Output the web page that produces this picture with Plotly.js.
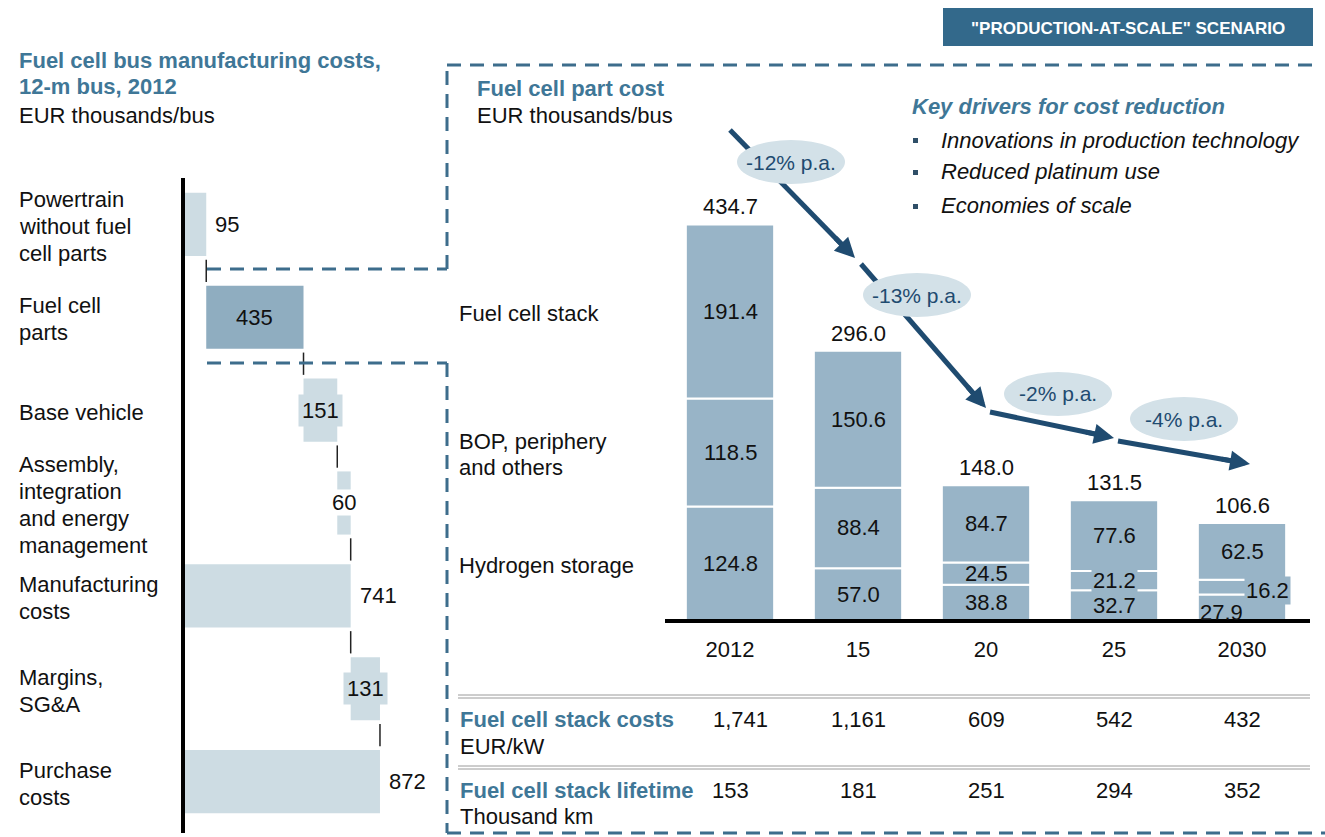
<!DOCTYPE html>
<html><head><meta charset="utf-8">
<script src="https://cdn.plot.ly/plotly-3.0.1.min.js"></script>
<style>html,body{margin:0;padding:0;background:#fff}</style>
</head><body><div id="chart" style="width:1325px;height:837px"></div>
<script>
// ---------------- DATA ----------------
const wfCategories = ['Powertrain without fuel cell parts','Fuel cell parts','Base vehicle','Assembly, integration and energy management','Manufacturing costs','Margins, SG&A','Purchase costs'];
const wfLabelLines = [['Powertrain','without fuel','cell parts'],['Fuel cell','parts'],['Base vehicle'],['Assembly,','integration','and energy','management'],['Manufacturing','costs'],['Margins,','SG&A'],['Purchase','costs']];
const wfValues = [95, 435, 151, 60, 741, 131, 872];
const wfMeasure = ['relative','relative','relative','relative','total','relative','total'];

const years = ['2012','15','20','25','2030'];
const hydrogenStorage = [124.8, 57.0, 38.8, 32.7, 27.9];
const bopOthers = [118.5, 88.4, 24.5, 21.2, 16.2];
const fuelCellStack = [191.4, 150.6, 84.7, 77.6, 62.5];
const partTotals = [434.7, 296.0, 148.0, 131.5, 106.6];
const cagrLabels = ['-12% p.a.','-13% p.a.','-2% p.a.','-4% p.a.'];
const segmentNames = [['Fuel cell stack'],['BOP, periphery','and others'],['Hydrogen storage']];
const stackCosts = ['1,741','1,161','609','542','432'];
const stackLifetime = ['153','181','251','294','352'];
const drivers = ['Innovations in production technology','Reduced platinum use','Economies of scale'];

// ---------------- STYLE ----------------
const W = 1325, H = 837;
const FONT = 'Liberation Sans, Arial, sans-serif';
const BLUE = '#3f7797', NAVY = '#1f4b70', DASH = '#3d6d8c';
const LIGHT = '#cddce3', DARK = '#8fadc0', BARC = '#98b4c7', ELL = '#d3e1e8', TXT = '#111';
const X = p => p / W, Y = p => 1 - p / H;
const annotations = [], shapes = [];

function txt(x, y, text, o) {
  o = o || {};
  annotations.push({xref:'paper', yref:'paper', x:X(x), y:Y(y), text:text, showarrow:false,
    xanchor:o.xanchor||'left', yanchor:'middle',
    font:{family:FONT, size:o.size||22, color:o.color||TXT}});
}
function lines(x, y0, arr, lh, o) { arr.forEach((t,k) => txt(x, y0 + k*lh, t, o)); }
function pline(x0,y0,x1,y1,color,width,dash){
  shapes.push({type:'line', xref:'paper', yref:'paper', x0:X(x0), y0:Y(y0), x1:X(x1), y1:Y(y1),
    line:{color:color, width:width, dash:dash||'solid'}});
}

// ---------------- WATERFALL ----------------
const wfBase = [], wfLen = [], wfEnd = [];
let cum = 0;
wfValues.forEach((v,i) => {
  if (wfMeasure[i] === 'total') { wfBase.push(0); cum = v; }
  else { wfBase.push(cum); cum += v; }
  wfLen.push(v); wfEnd.push(cum);
});
const wfColors = wfCategories.map((c,i) => i === 1 ? DARK : LIGHT);

const traces = [{
  type:'bar', orientation:'h', y:wfCategories, x:wfLen, base:wfBase, width:0.68,
  marker:{color:wfColors, line:{width:0}}, xaxis:'x', yaxis:'y', hoverinfo:'skip'
}];

// connectors
for (let i = 0; i < wfValues.length - 1; i++) {
  shapes.push({type:'line', xref:'x', yref:'y', x0:wfEnd[i], x1:wfEnd[i], y0:i+0.38, y1:i+0.62,
    line:{color:'#222', width:1.5}});
}
// waterfall labels
const wfLabelStyle = ['outside','inside','boxed','white','outside','boxed','outside'];
wfValues.forEach((v,i) => {
  const s = wfLabelStyle[i];
  const a = {xref:'x', yref:'y', y:i, text:String(v), showarrow:false,
    font:{family:FONT, size:22, color:TXT}, yanchor:'middle'};
  if (s === 'outside') { a.x = wfEnd[i]; a.xanchor = 'left'; a.xshift = 7; }
  else { a.x = wfBase[i] + v/2; a.xanchor = 'center'; }
  if (s === 'boxed') { a.bgcolor = LIGHT; a.borderpad = 3; }
  if (s === 'white') { a.bgcolor = '#ffffff'; a.borderpad = 0; }
  annotations.push(a);
});
// category labels (left)
wfLabelLines.forEach((ls,i) => {
  ls.forEach((t,k) => annotations.push({xref:'paper', yref:'y', x:X(17), y:i,
    yshift: -((k - (ls.length-1)/2) * 27) - 2, text:t, showarrow:false, xanchor:'left', yanchor:'middle',
    font:{family:FONT, size:22, color:TXT}}));
});
// left axis line
pline(183, 178, 183, 833, '#000', 4);

// ---------------- STACKED BARS ----------------
const segs = [hydrogenStorage, bopOthers, fuelCellStack];
const segBases = [];
let run = years.map(() => 0);
segs.forEach(s => { segBases.push(run.slice()); run = run.map((r,j) => r + s[j]); });
segs.forEach((s,k) => traces.push({
  type:'bar', x:years, y:s, base:segBases[k], width:0.69, xaxis:'x2', yaxis:'y2',
  marker:{color:BARC, line:{color:'#ffffff', width:2}}, hoverinfo:'skip'
}));
// totals (x given as category index)
partTotals.forEach((t,j) => annotations.push({xref:'x2', yref:'y2', x:j, y:t, text:t.toFixed(1),
  showarrow:false, yanchor:'bottom', yshift:3, font:{family:FONT, size:22, color:TXT}}));
// segment values
const segOffsets = {'1-3':{bg:true}, '1-4':{xs:25, ys:-3, bg:true}, '0-4':{xs:-21, ys:-5}};
segs.forEach((s,k) => s.forEach((v,j) => {
  const o = segOffsets[k+'-'+j] || {};
  const a = {xref:'x2', yref:'y2', x:j, y:segBases[k][j] + v/2, text:v.toFixed(1), showarrow:false,
    xshift:o.xs||0, yshift:o.ys||0, yanchor:'middle', font:{family:FONT, size:22, color:TXT}};
  if (o.bg) { a.bgcolor = BARC; a.borderpad = 1; }
  annotations.push(a);
}));
// segment names on the left of bars
[313, 441, 565].forEach((y,k) => lines(457, y, segmentNames[k], 26));
// baseline
pline(665, 621, 1310, 621, '#000', 4);

// ---------------- ARROWS & CAGR ----------------
const arrows = [[730,130,855,258],[861,264,986,408],[990,412,1114,438],[1118,441,1250,464]];
const ellipses = [[791,162],[917,295],[1058,394],[1184,419]];
arrows.forEach(a => {
  const dx = a[2]-a[0], dy = a[3]-a[1], L = Math.hypot(dx,dy), ux = dx/L, uy = dy/L;
  pline(a[0], a[1], a[2]-ux*12, a[3]-uy*12, NAVY, 5);
  annotations.push({xref:'paper', yref:'paper', x:X(a[2]), y:Y(a[3]), ax:-ux*30, ay:-uy*30,
    text:'', showarrow:true, arrowhead:2, arrowsize:0.8, arrowwidth:5, arrowcolor:NAVY});
});
ellipses.forEach((e,i) => {
  shapes.push({type:'circle', xref:'paper', yref:'paper', x0:X(e[0]-54), x1:X(e[0]+54), y0:Y(e[1]-22), y1:Y(e[1]+22),
    fillcolor:ELL, line:{width:0}});
  txt(e[0], e[1], cagrLabels[i], {xanchor:'center', size:21, color:NAVY});
});

// ---------------- TEXTS ----------------
lines(17, 60, ['<b>Fuel cell bus manufacturing costs,</b>','<b>12-m bus, 2012</b>'], 27, {color:BLUE});
txt(17, 115, 'EUR thousands/bus');
txt(475, 88, '<b>Fuel cell part cost</b>', {color:BLUE});
txt(475, 115, 'EUR thousands/bus');
txt(910, 106, '<b><i>Key drivers for cost reduction</i></b>', {color:BLUE});
drivers.forEach((d,i) => {
  const y = [140,172,206][i];
  shapes.push({type:'rect', xref:'paper', yref:'paper', x0:X(913), x1:X(918), y0:Y(y-2), y1:Y(y+3), fillcolor:'#2f4f68', line:{width:0}});
  txt(939, y, '<i>' + d + '</i>');
});
// scenario box
shapes.push({type:'rect', xref:'paper', yref:'paper', x0:X(943), x1:X(1313), y0:Y(46), y1:Y(8), fillcolor:'#33698b', line:{width:0}});
txt(1128, 28, '<b>"PRODUCTION-AT-SCALE" SCENARIO</b>', {xanchor:'center', size:17, color:'#ffffff'});

// dashed bracket lines
const dd = '14px,9px';
pline(207, 269, 447, 269, DASH, 3, dd);
pline(447, 269, 447, 65, DASH, 3, dd);
pline(447, 65, 1312, 65, DASH, 3, dd);
pline(207, 363, 447, 363, DASH, 3, dd);
pline(447, 363, 447, 833, DASH, 3, dd);
pline(447, 833, 1325, 833, DASH, 3, dd);

// ---------------- TABLE ----------------
[695, 766].forEach(y => { pline(458, y, 1310, y, '#9a9a9a', 1); pline(458, y+3, 1310, y+3, '#9a9a9a', 1); });
txt(458, 719, '<b>Fuel cell stack costs</b>', {color:BLUE});
txt(458, 746, 'EUR/kW');
txt(458, 790, '<b>Fuel cell stack lifetime</b>', {color:BLUE});
txt(458, 816, 'Thousand km');
stackCosts.forEach((v,j) => annotations.push({xref:'x2', yref:'paper', x:j, y:Y(719), text:v, showarrow:false,
  xshift: j===0 ? 10 : 0, yanchor:'middle', font:{family:FONT, size:22, color:TXT}}));
stackLifetime.forEach((v,j) => annotations.push({xref:'x2', yref:'paper', x:j, y:Y(790), text:v, showarrow:false,
  yanchor:'middle', font:{family:FONT, size:22, color:TXT}}));

// ---------------- LAYOUT ----------------
const layout = {
  width:W, height:H, margin:{l:0,r:0,t:0,b:0}, paper_bgcolor:'#fff', plot_bgcolor:'rgba(0,0,0,0)',
  showlegend:false, barmode:'overlay', font:{family:FONT, size:22, color:TXT},
  xaxis:{domain:[X(185), X(440)], range:[0, 255/0.2236], visible:false},
  yaxis:{domain:[Y(828), Y(178)], type:'category', range:[6.5,-0.5], visible:false},
  xaxis2:{domain:[X(666), X(1306)], anchor:'y2', type:'category', range:[-0.5,4.5], showgrid:false,
    zeroline:false, showline:false, ticks:'', ticklabelstandoff:14, tickfont:{family:FONT, size:22, color:TXT}},
  yaxis2:{domain:[Y(620), Y(100)], anchor:'x2', range:[0, 520/0.91], visible:false},
  shapes:shapes, annotations:annotations
};
Plotly.newPlot('chart', traces, layout, {staticPlot:true, displayModeBar:false});
</script></body></html>
